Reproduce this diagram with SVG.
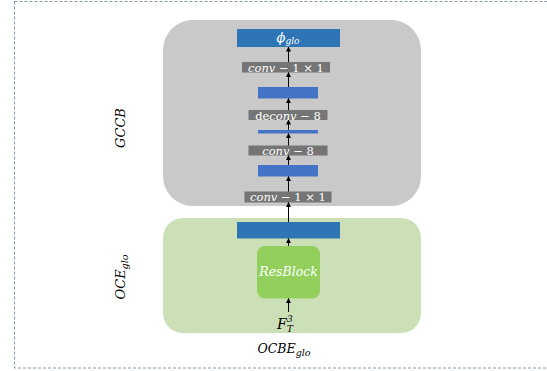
<svg xmlns="http://www.w3.org/2000/svg" width="547" height="371" viewBox="0 0 547 371">
<style>
.math{font-family:"DejaVu Serif","Liberation Serif",serif;font-style:italic}
.up{font-style:normal}
.lbl{fill:#ffffff;font-size:11.5px;text-anchor:middle}
.op{fill:#757575}
.blue{fill:#4472C4}
.dblue{fill:#2E75B6}
.conn{stroke:#000;stroke-width:1;fill:none;marker-end:url(#ah)}
</style>
<defs>
<marker id="ah" viewBox="0 0 6 6" refX="5.5" refY="3" markerWidth="5" markerHeight="5" orient="auto" markerUnits="userSpaceOnUse">
<path d="M0,0 L6,3 L0,6 z" fill="#000"/>
</marker>
</defs>
<rect x="14.5" y="1.5" width="560" height="366.5" fill="none" stroke="#8496B0" stroke-width="1" stroke-dasharray="3,2"/>
<g id="gccb">
<rect x="163" y="20" width="258" height="186" rx="30" fill="#C9C9C9"/>
<text class="math" x="0" y="0" font-size="13" fill="#000" text-anchor="middle" transform="translate(124.5,128) rotate(-90)">GCCB</text>
</g>
<g id="oce">
<rect x="163" y="218" width="258" height="115" rx="20" fill="#CCE0B8"/>
<text class="math" x="0" y="0" font-size="13" fill="#000" text-anchor="middle" transform="translate(125,277) rotate(-90)">OCE<tspan font-size="9.5" dy="3">glo</tspan></text>
</g>
<g id="phi">
<rect class="dblue" x="237" y="29" width="103" height="18"/>
<text class="math" x="288" y="42" font-size="13" fill="#fff" text-anchor="middle">ϕ<tspan font-size="9" dy="2">glo</tspan></text>
</g>
<g id="conv1x1top">
<rect class="op" x="242" y="62" width="88" height="10.5"/>
<text class="math lbl" x="286" y="71.5">conv <tspan class="up">− 1 × 1</tspan></text>
</g>
<g id="feat3">
<rect class="blue" x="258" y="87" width="60" height="11.5"/>
</g>
<g id="deconv8">
<rect class="op" x="248.5" y="110" width="79" height="10"/>
<text class="math lbl" x="288" y="119.5"><tspan class="up">de</tspan>conv <tspan class="up">− 8</tspan></text>
</g>
<g id="feat2">
<rect class="blue" x="258" y="130" width="60" height="3.5"/>
</g>
<g id="conv8">
<rect class="op" x="248.5" y="145.5" width="79" height="10"/>
<text class="math lbl" x="288" y="155">conv <tspan class="up">− 8</tspan></text>
</g>
<g id="feat1">
<rect class="blue" x="258" y="165" width="60" height="11.5"/>
</g>
<g id="conv1x1bot">
<rect class="op" x="244.5" y="191.5" width="87" height="11"/>
<text class="math lbl" x="288" y="201">conv <tspan class="up">− 1 × 1</tspan></text>
</g>
<g id="feat0">
<rect class="dblue" x="237" y="222" width="103" height="16.5"/>
</g>
<g id="resblock">
<rect x="257" y="246" width="63" height="52.5" rx="8" fill="#92CF5C"/>
<text class="math" x="288.5" y="276" font-size="12.5" fill="#fff" text-anchor="middle">ResBlock</text>
</g>
<g id="input">
<text class="math" x="285" y="329" font-size="14" fill="#000" text-anchor="middle">F<tspan font-size="9.5" dy="-7">3</tspan><tspan font-size="9.5" dx="-6" dy="10">T</tspan></text>
</g>
<g id="caption">
<text class="math" x="284" y="353" font-size="12.5" fill="#000" text-anchor="middle">OCBE<tspan font-size="9.5" dy="3">glo</tspan></text>
</g>
<g id="connectors">
<line class="conn" x1="288.5" y1="312" x2="288.5" y2="298.5"/>
<line class="conn" x1="288.5" y1="246" x2="288.5" y2="238.5"/>
<line class="conn" x1="288.5" y1="222" x2="288.5" y2="202.5"/>
<line class="conn" x1="288.5" y1="191.5" x2="288.5" y2="176.5"/>
<line class="conn" x1="288.5" y1="165" x2="288.5" y2="155.5"/>
<line class="conn" x1="288.5" y1="145.5" x2="288.5" y2="133.5"/>
<line class="conn" x1="288.5" y1="130" x2="288.5" y2="120"/>
<line class="conn" x1="288.5" y1="110" x2="288.5" y2="98.5"/>
<line class="conn" x1="288.5" y1="87" x2="288.5" y2="72.5"/>
<line class="conn" x1="288.5" y1="62" x2="288.5" y2="47"/>
</g>
</svg>
